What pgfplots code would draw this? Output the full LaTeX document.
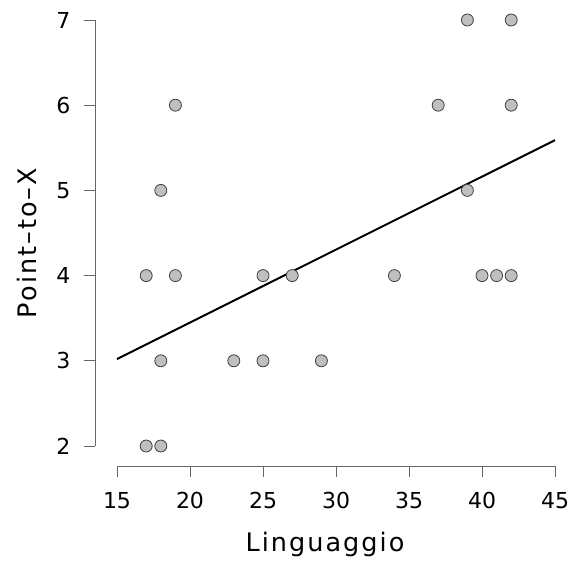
\documentclass[border=0pt]{standalone}
\usepackage{pgfplots}
\pgfplotsset{compat=1.18}
\usepackage{fontspec}
\setmainfont{DejaVu Sans}
\newfontfamily\tickfont{DejaVu Sans}
\newfontfamily\labfont[LetterSpace=8]{DejaVu Sans}
\begin{document}
\begin{tikzpicture}[x=1pt,y=1pt]
\useasboundingbox (0,0) rectangle (569,560);
\begin{axis}[
  at={(95pt,94pt)}, anchor=south west,
  scale only axis, width=460pt, height=446pt,
  xmin=13.493, xmax=45, ymin=1.7653, ymax=7,
  axis x line*=bottom, axis y line*=left,
  axis line style={draw=none},
  xtick={15,20,...,45}, ytick={2,3,...,7},
  tick align=outside, major tick length=11pt,
  tick style={black!60, line width=0.9pt},
  clip=false,
  /pgf/number format/assume math mode=true,
  ticklabel style={font=\tickfont\fontsize{22}{22}\selectfont},
  xticklabel style={yshift=-12pt},
  yticklabel style={xshift=-10pt},
  xlabel={Linguaggio}, ylabel={Point–to–X},
  label style={font=\labfont\fontsize{25.5}{25.5}\selectfont},
  xlabel style={yshift=-16pt},
  ylabel style={yshift=13pt},
]
\draw[black!60, line width=0.9pt] (axis cs:15,1.7653) -- (axis cs:45,1.7653);
\draw[black!60, line width=0.9pt] (axis cs:13.493,2) -- (axis cs:13.493,7);
\addplot[black, line width=2pt] coordinates {(15,3.02) (45,5.59)};
\addplot[only marks, mark=*, mark size=6pt, mark options={fill=black!25, draw=black!75, line width=0.8pt}] coordinates {
(17,4) (17,2) (18,2) (18,3) (18,5) (19,6) (19,4) (23,3) (25,4) (25,3)
(27,4) (29,3) (34,4) (37,6) (39,7) (39,5) (40,4) (41,4) (42,7) (42,6) (42,4)
};
\end{axis}
\end{tikzpicture}
\end{document}
